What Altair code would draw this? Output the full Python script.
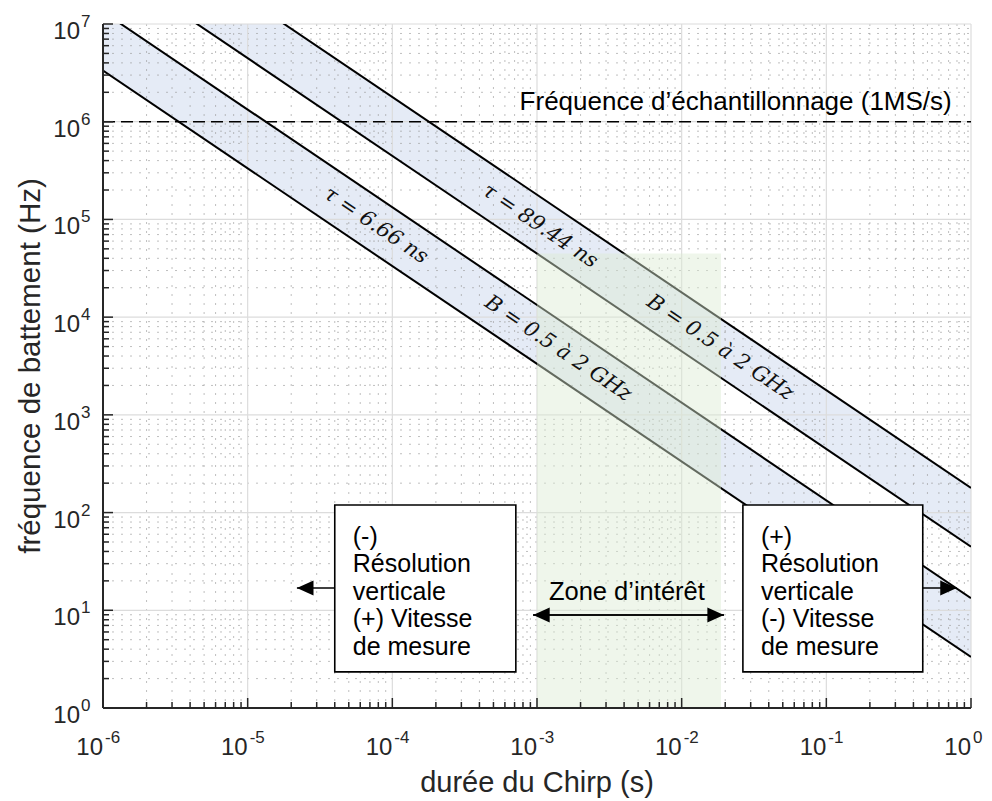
import altair as alt
import pandas as pd

W, H = 868, 684

# ---------------- data ----------------
chirp_span_s = [1e-6, 1.0]
line_names = ["tau6.66_B0.5", "tau6.66_B2", "tau89.44_B0.5", "tau89.44_B2"]
beat_freq_at_1us = [3.33e6, 13.32e6, 44.72e6, 178.9e6]
beat_freq_at_1s = [3.33, 13.32, 44.72, 178.9]

band_names = ["tau6.66", "tau89.44"]
band_low_at_1us = [3.33e6, 44.72e6]
band_high_at_1us = [13.32e6, 178.9e6]
band_low_at_1s = [3.33, 44.72]
band_high_at_1s = [13.32, 178.9]

sampling_freq_hz = [1e6]
sampling_label = ["Fréquence d’échantillonnage (1MS/s)"]

zone_duration_s = [1e-3, 1.87e-2]
zone_freq_hz = [1.0, 4.47e4]

x_decades = [1e-6, 1e-5, 1e-4, 1e-3, 1e-2, 1e-1, 1.0]
x_exponents = ["-6", "-5", "-4", "-3", "-2", "-1", "0"]
y_decades = [1e0, 1e1, 1e2, 1e3, 1e4, 1e5, 1e6, 1e7]
y_exponents = ["0", "1", "2", "3", "4", "5", "6", "7"]

band_label_text = ["τ = 6.66 ns", "B = 0.5 à 2 GHz", "τ = 89.44 ns", "B = 0.5 à 2 GHz"]
band_label_x = [7.7e-5, 1.4e-3, 1.05e-3, 1.84e-2]
band_label_y = [8.65e4, 4.76e3, 8.52e4, 4.86e3]

box_text = ["(-)\nRésolution\nverticale\n(+) Vitesse\nde mesure",
            "(+)\nRésolution\nverticale\n(-) Vitesse\nde mesure"]
box_x0 = [4.0e-5, 0.0265]
box_x1 = [7.14e-4, 0.464]
box_y0 = [2.34, 2.34]
box_y1 = [119.6, 119.6]

# arrows: (start, tip) at height y
arrow_left = {"x_from": [4.0e-5, 0.0196], "x_tip": [2.19e-5, 9.4e-4], "y": [16.9, 8.95]}
arrow_right = {"x_from": [0.464, 9.4e-4], "x_tip": [0.798, 0.0196], "y": [16.9, 8.95]}

zone_label = ["Zone d’intérêt"]
zone_label_x = [4.18e-3]
zone_label_y = [15.4]
sampling_label_x = [0.736]
sampling_label_y = [1.6e6]

x_title = "durée du Chirp (s)"
y_title = "fréquence de battement (Hz)"

# ---------------- helpers ----------------
xs = alt.Scale(type="log", domain=[1e-6, 1.0])
ys = alt.Scale(type="log", domain=[1.0, 1e7])


def X(f):
    return alt.X(f"{f}:Q", scale=xs, axis=None)


def Y(f):
    return alt.Y(f"{f}:Q", scale=ys, axis=None)


x_minor = [m * d for d in x_decades[:-1] for m in range(2, 10)]
y_minor = [m * d for d in y_decades[:-1] for m in range(2, 10)]

one = pd.DataFrame({"a": [0]})
SANS = "Liberation Sans"
AX = "#262626"

# bands
band_rows = []
for i, b in enumerate(band_names):
    band_rows.append({"band": b, "T": chirp_span_s[0], "lo": band_low_at_1us[i], "hi": band_high_at_1us[i]})
    band_rows.append({"band": b, "T": chirp_span_s[1], "lo": band_low_at_1s[i], "hi": band_high_at_1s[i]})
bands = alt.Chart(pd.DataFrame(band_rows)).mark_area(color="#e5ebf6", clip=True).encode(
    x=X("T"), y=Y("lo"), y2=alt.Y2("hi:Q"), detail="band:N")

# grids
minor_x = alt.Chart(pd.DataFrame({"v": x_minor})).mark_rule(
    color="#9c9c9c", strokeDash=[2, 7], strokeWidth=1, opacity=0.65).encode(
    x=X("v"), y=alt.value(0), y2=alt.value(H))
minor_y = alt.Chart(pd.DataFrame({"v": y_minor})).mark_rule(
    color="#9c9c9c", strokeDash=[2, 7], strokeWidth=1, opacity=0.65).encode(
    y=Y("v"), x=alt.value(0), x2=alt.value(W))
major_x = alt.Chart(pd.DataFrame({"v": x_decades})).mark_rule(
    color="#dcdcdc", strokeWidth=1.2).encode(x=X("v"), y=alt.value(0), y2=alt.value(H))
major_y = alt.Chart(pd.DataFrame({"v": y_decades})).mark_rule(
    color="#dcdcdc", strokeWidth=1.2).encode(y=Y("v"), x=alt.value(0), x2=alt.value(W))

# lines
line_rows = []
for i, n in enumerate(line_names):
    line_rows.append({"line": n, "T": chirp_span_s[0], "f": beat_freq_at_1us[i]})
    line_rows.append({"line": n, "T": chirp_span_s[1], "f": beat_freq_at_1s[i]})
lines = alt.Chart(pd.DataFrame(line_rows)).mark_line(color="black", strokeWidth=2, clip=True).encode(
    x=X("T"), y=Y("f"), detail="line:N")

# sampling frequency
samp = alt.Chart(pd.DataFrame({"f": sampling_freq_hz})).mark_rule(
    color="black", strokeDash=[12, 6], strokeWidth=1.5).encode(
    y=Y("f"), x=alt.value(0), x2=alt.value(W))
samp_txt = alt.Chart(pd.DataFrame({"x": sampling_label_x, "y": sampling_label_y, "t": sampling_label})).mark_text(
    font=SANS, fontSize=26, align="right", baseline="middle", color="black").encode(
    x=X("x"), y=Y("y"), text="t:N")

# band labels
blabels = alt.Chart(pd.DataFrame({"x": band_label_x, "y": band_label_y, "t": band_label_text})).mark_text(
    font="DejaVu Serif", fontStyle="italic", fontSize=21, angle=34, align="center",
    baseline="middle", color="#111111").encode(x=X("x"), y=Y("y"), text="t:N")

# green zone
zone = alt.Chart(pd.DataFrame({"x0": [zone_duration_s[0]], "x1": [zone_duration_s[1]],
                               "y0": [zone_freq_hz[0]], "y1": [zone_freq_hz[1]]})).mark_rect(
    color="#dcecd2", opacity=0.45).encode(x=X("x0"), x2=alt.X2("x1:Q"), y=Y("y0"), y2=alt.Y2("y1:Q"))

zone_txt = alt.Chart(pd.DataFrame({"x": zone_label_x, "y": zone_label_y, "t": zone_label})).mark_text(
    font=SANS, fontSize=25.5, align="center", baseline="middle", color="black").encode(
    x=X("x"), y=Y("y"), text="t:N")

# boxes
boxdf = pd.DataFrame({"x0": box_x0, "x1": box_x1, "y0": box_y0, "y1": box_y1, "t": box_text})
boxes = alt.Chart(boxdf).mark_rect(fill="white", stroke="black", strokeWidth=1.6).encode(
    x=X("x0"), x2=alt.X2("x1:Q"), y=Y("y0"), y2=alt.Y2("y1:Q"))
boxtxt = alt.Chart(boxdf).mark_text(
    font=SANS, fontSize=25, align="left", baseline="top", lineBreak="\n", lineHeight=27.5,
    dx=18, dy=20, color="black").encode(x=X("x0"), y=Y("y1"), text="t:N")

# arrows
al = pd.DataFrame(arrow_left)
ar = pd.DataFrame(arrow_right)
arrow_lines = alt.Chart(al).mark_rule(color="black", strokeWidth=1.5).encode(
    x=X("x_from"), x2=alt.X2("x_tip:Q"), y=Y("y"))
arrow_lines2 = alt.Chart(ar).mark_rule(color="black", strokeWidth=1.5).encode(
    x=X("x_from"), x2=alt.X2("x_tip:Q"), y=Y("y"))
head_l = alt.Chart(al).mark_point(shape="M0,0L1,-0.45L1,0.45Z", filled=True, size=1100,
                                  color="black", opacity=1).encode(x=X("x_tip"), y=Y("y"))
head_r = alt.Chart(ar).mark_point(shape="M0,0L-1,-0.45L-1,0.45Z", filled=True, size=1100,
                                  color="black", opacity=1).encode(x=X("x_tip"), y=Y("y"))

# axes
axis_left = alt.Chart(one).mark_rule(color=AX, strokeWidth=2).encode(
    x=alt.value(0), y=alt.value(0), y2=alt.value(H))
axis_bottom = alt.Chart(one).mark_rule(color=AX, strokeWidth=2).encode(
    y=alt.value(H), x=alt.value(0), x2=alt.value(W))
tick_xM = alt.Chart(pd.DataFrame({"v": x_decades})).mark_rule(color=AX, strokeWidth=1.5).encode(
    x=X("v"), y=alt.value(H), y2=alt.value(H - 10))
tick_xm = alt.Chart(pd.DataFrame({"v": x_minor})).mark_rule(color=AX, strokeWidth=1.5).encode(
    x=X("v"), y=alt.value(H), y2=alt.value(H - 6))
tick_yM = alt.Chart(pd.DataFrame({"v": y_decades})).mark_rule(color=AX, strokeWidth=1.5).encode(
    y=Y("v"), x=alt.value(0), x2=alt.value(10))
tick_ym = alt.Chart(pd.DataFrame({"v": y_minor})).mark_rule(color=AX, strokeWidth=1.5).encode(
    y=Y("v"), x=alt.value(0), x2=alt.value(6))

xl = pd.DataFrame({"v": x_decades, "e": x_exponents, "b": ["10"] * len(x_decades)})
xlab10 = alt.Chart(xl).mark_text(font=SANS, fontSize=24, align="right", baseline="alphabetic",
                                 color=AX).encode(x=X("v"), y=alt.value(H + 47), text="b:N")
xlabE = alt.Chart(xl).mark_text(font=SANS, fontSize=17, align="left", baseline="alphabetic",
                                dx=2, color=AX).encode(x=X("v"), y=alt.value(H + 35), text="e:N")
yl = pd.DataFrame({"v": y_decades, "e": y_exponents, "b": ["10"] * len(y_decades)})
ylab10 = alt.Chart(yl).mark_text(font=SANS, fontSize=24, align="right", baseline="alphabetic",
                                 dy=15, color=AX).encode(y=Y("v"), x=alt.value(-23), text="b:N")
ylabE = alt.Chart(yl).mark_text(font=SANS, fontSize=17, align="left", baseline="alphabetic",
                                dy=3, color=AX).encode(y=Y("v"), x=alt.value(-22), text="e:N")

xt = alt.Chart(pd.DataFrame({"t": [x_title]})).mark_text(
    font=SANS, fontSize=29, align="center", baseline="alphabetic", color=AX).encode(
    x=alt.value(W / 2), y=alt.value(H + 84), text="t:N")
yt = alt.Chart(pd.DataFrame({"t": [y_title]})).mark_text(
    font=SANS, fontSize=29.5, align="center", baseline="alphabetic", angle=270, color=AX).encode(
    x=alt.value(-63), y=alt.value(H / 2), text="t:N")

chart = alt.layer(
    bands, minor_x, minor_y, major_x, major_y, lines, samp, samp_txt, zone, blabels,
    boxes, boxtxt, zone_txt, arrow_lines, arrow_lines2, head_l, head_r,
    axis_left, axis_bottom, tick_xM, tick_xm, tick_yM, tick_ym,
    xlab10, xlabE, ylab10, ylabE, xt, yt
).properties(
    width=W, height=H,
    autosize=alt.AutoSizeParams(type="none"),
    padding={"left": 95, "top": 16, "right": 13, "bottom": 93},
).configure_view(stroke=None)

chart.save("out.html", embed_options={"renderer": "svg", "actions": False})
